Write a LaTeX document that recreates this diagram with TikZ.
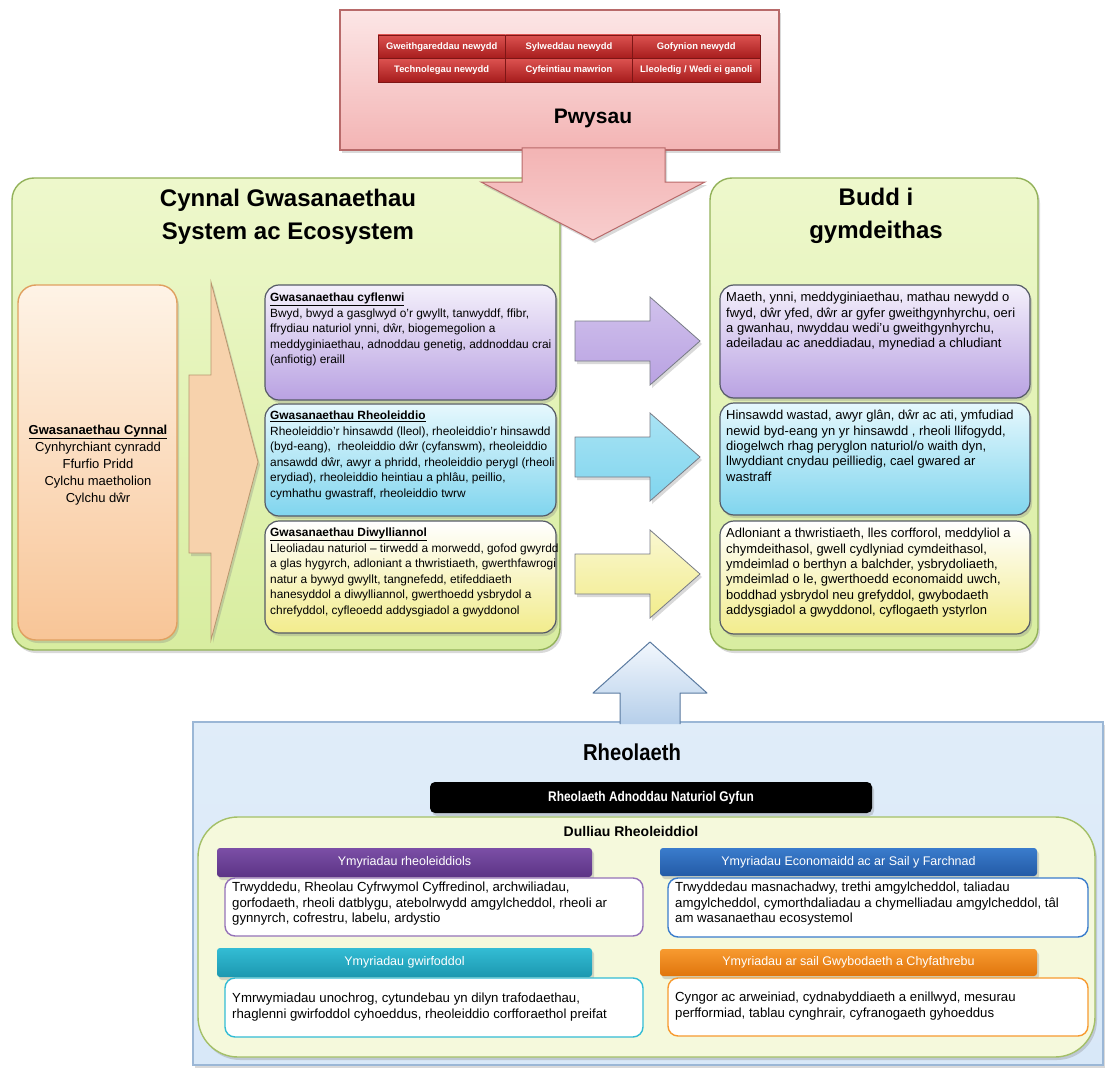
\documentclass[tikz,border=0pt]{standalone}
\usepackage{fontspec}
\setmainfont{Liberation Sans}
\usetikzlibrary{fit,shadows}
\definecolor{pinkTop}{HTML}{FCE6E6}
\definecolor{pinkBot}{HTML}{F3B4B4}
\definecolor{pinkBd}{HTML}{B86A6A}
\definecolor{redTop}{HTML}{DC5250}
\definecolor{redBot}{HTML}{A61C1C}
\definecolor{redBd}{HTML}{7E1616}
\definecolor{greenTop}{HTML}{EEF8CC}
\definecolor{greenBot}{HTML}{D8EDA0}
\definecolor{greenBd}{HTML}{93B25A}
\definecolor{orTop}{HTML}{FEF3E6}
\definecolor{orBot}{HTML}{F8C597}
\definecolor{orBd}{HTML}{E0A060}
\definecolor{chevFill}{HTML}{F7D2AC}
\definecolor{chevBd}{HTML}{B8966E}
\definecolor{purTop}{HTML}{F4F0FB}
\definecolor{purBot}{HTML}{B9A2E2}
\definecolor{cyTop}{HTML}{E6F8FD}
\definecolor{cyBot}{HTML}{80D5EE}
\definecolor{yeTop}{HTML}{FFFFFF}
\definecolor{yeBot}{HTML}{F2EC8C}
\definecolor{boxBd}{HTML}{555A66}
\definecolor{blueBg}{HTML}{D8E8F8}
\definecolor{blueBd}{HTML}{9BB7D6}
\definecolor{arrBlueTop}{HTML}{F2F7FD}
\definecolor{arrBlueBot}{HTML}{B6CFEA}
\definecolor{arrBlueBd}{HTML}{5A7AA0}
\definecolor{innerY}{HTML}{F5F9DC}
\definecolor{innerBd}{HTML}{A4C068}
\definecolor{hPur}{HTML}{7B4FA6}
\definecolor{hPurD}{HTML}{5C3486}
\definecolor{hCy}{HTML}{33BCD4}
\definecolor{hCyD}{HTML}{1C98B0}
\definecolor{hBl}{HTML}{3A7CCC}
\definecolor{hBlD}{HTML}{235AA6}
\definecolor{hOr}{HTML}{F79A30}
\definecolor{hOrD}{HTML}{E0750C}
\newcommand\midfont{\fontsize{11.9}{15.5}\selectfont}
\newcommand\bxfont{\fontsize{13}{15.4}\selectfont}
\newcommand\smfont{\fontsize{13.2}{15.3}\selectfont}
\begin{document}
\begin{tikzpicture}[x=1pt,y=-1pt,
  shd/.style={drop shadow={opacity=0.3,shadow xshift=2pt,shadow yshift=-3pt}},
  fitbox/.style={inner sep=0pt},
  redcell/.style={draw=redBd, line width=0.6pt, top color=redTop, bottom color=redBot,
    minimum width=127.3pt, minimum height=23.5pt, inner sep=0pt, text=white,
    font=\fontsize{9.4}{9.4}\selectfont\bfseries},
  greenbox/.style={fitbox, draw=greenBd, line width=1.4pt, rounded corners=22pt,
    top color=greenTop, bottom color=greenBot, shd},
  svcbox/.style={fitbox, draw=boxBd, line width=1.2pt, rounded corners=14pt, shd},
  hdr/.style={fitbox, rounded corners=3pt, shd},
  hdrtext/.style={text=white, font=\fontsize{12.5}{12.5}\selectfont},
  tbox/.style={fitbox, fill=white, line width=1.4pt, rounded corners=10pt},
  blockarr/.style={draw=boxBd!80, line width=0.8pt, shd},
]
\useasboundingbox (0,0) rectangle (1106,1070);

% ---------- big boxes ----------
\node[fit={(12,178)(560,650)}, greenbox] (lgreen) {};
\node[fit={(710,178)(1038,650)}, greenbox] (rgreen) {};
\node[align=center, font=\fontsize{24}{33}\selectfont\bfseries] (ltitle) at (288,217)
  {Cynnal Gwasanaethau\\System ac Ecosystem};
\node[align=center, font=\fontsize{24}{33}\selectfont\bfseries] (rtitle) at (876,216)
  {Budd i\\gymdeithas};

% ---------- Pressures ----------
\node[fit={(340,10)(779,150)}, fitbox, draw=pinkBd, line width=1.2pt,
  top color=pinkTop, bottom color=pinkBot, shd] (press) {};
\node[redcell] (c11) at (441.65,46.75) {Gweithgareddau newydd};
\node[redcell] (c12) at (568.95,46.75) {Sylweddau newydd};
\node[redcell] (c13) at (696.25,46.75) {Gofynion newydd};
\node[redcell] (c21) at (441.65,70.25) {Technolegau newydd};
\node[redcell] (c22) at (568.95,70.25) {Cyfeintiau mawrion};
\node[redcell] (c23) at (696.25,70.25) {Lleoledig / Wedi ei ganoli};
\node[font=\fontsize{21}{21}\selectfont\bfseries] (pw) at (593,118) {Pwysau};

% pink down arrow
\path[draw=pinkBd, line width=1pt, top color=pinkBot, bottom color=pinkTop!50!pinkBot, shd]
  (522,148) -- (665,148) -- (665,182) -- (705,182) -- (593,240) -- (481,182) -- (522,182) -- cycle;

% supporting services
\node[fit={(18,285)(177,640)}, fitbox, draw=orBd, line width=1.4pt, rounded corners=18pt,
  top color=orTop, bottom color=orBot, shd] (support) {};
\node[align=center, font=\fontsize{13}{17}\selectfont] (supportT) at (98,465)
  {\textbf{\underline{Gwasanaethau Cynnal}}\\Cynhyrchiant cynradd\\Ffurfio Pridd\\Cylchu maetholion\\Cylchu dŵr};
\path[draw=chevBd, line width=0.8pt, fill=chevFill, shd]
  (189,375) -- (211,375) -- (211,282) -- (258,462) -- (211,640) -- (211,553) -- (189,553) -- cycle;

% service boxes
\node[fit={(265,285)(556,400)}, svcbox, top color=purTop, bottom color=purBot] (prov) {};
\node[fit={(265,404)(556,516)}, svcbox, top color=cyTop, bottom color=cyBot] (reg) {};
\node[fit={(265,521)(556,633)}, svcbox, top color=yeTop, bottom color=yeBot] (cult) {};
\node[anchor=north west, inner sep=0pt, align=left, font=\midfont] (provT) at (270,293)
  {\textbf{\underline{Gwasanaethau cyflenwi}}\\
   Bwyd, bwyd a gasglwyd o’r gwyllt, tanwyddf, ffibr,\\
   ffrydiau naturiol ynni, dŵr, biogemegolion a\\
   meddyginiaethau, adnoddau genetig, addnoddau crai\\
   (anfiotig) eraill};
\node[anchor=north west, inner sep=0pt, align=left, font=\midfont] (regT) at (270,411)
  {\textbf{\underline{Gwasanaethau Rheoleiddio}}\\
   Rheoleiddio’r hinsawdd (lleol), rheoleiddio’r hinsawdd\\
   (byd-eang), \ rheoleiddio dŵr (cyfanswm), rheoleiddio\\
   ansawdd dŵr, awyr a phridd, rheoleiddio perygl (rheoli\\
   erydiad), rheoleiddio heintiau a phlâu, peillio,\\
   cymhathu gwastraff, rheoleiddio twrw};
\node[anchor=north west, inner sep=0pt, align=left, font=\midfont] (cultT) at (270,528)
  {\textbf{\underline{Gwasanaethau Diwylliannol}}\\
   Lleoliadau naturiol – tirwedd a morwedd, gofod gwyrdd\\
   a glas hygyrch, adloniant a thwristiaeth, gwerthfawrogi\\
   natur a bywyd gwyllt, tangnefedd, etifeddiaeth\\
   hanesyddol a diwylliannol, gwerthoedd ysbrydol a\\
   chrefyddol, cyfleoedd addysgiadol a gwyddonol};

% benefit boxes
\node[fit={(720,285)(1030,398)}, svcbox, top color=purTop, bottom color=purBot] (bprov) {};
\node[fit={(720,403)(1030,515)}, svcbox, top color=cyTop, bottom color=cyBot] (breg) {};
\node[fit={(720,521)(1030,634)}, svcbox, top color=yeTop, bottom color=yeBot] (bcult) {};
\node[anchor=north west, inner sep=0pt, align=left, font=\bxfont] (bprovT) at (726,292)
  {Maeth, ynni, meddyginiaethau, mathau newydd o\\
   fwyd, dŵr yfed, dŵr ar gyfer gweithgynhyrchu, oeri\\
   a gwanhau, nwyddau wedi’u gweithgynhyrchu,\\
   adeiladau ac aneddiadau, mynediad a chludiant};
\node[anchor=north west, inner sep=0pt, align=left, font=\bxfont] (bregT) at (726,410)
  {Hinsawdd wastad, awyr glân, dŵr ac ati, ymfudiad\\
   newid byd-eang yn yr hinsawdd , rheoli llifogydd,\\
   diogelwch rhag peryglon naturiol/o waith dyn,\\
   llwyddiant cnydau peilliedig, cael gwared ar\\
   wastraff};
\node[anchor=north west, inner sep=0pt, align=left, font=\bxfont] (bcultT) at (726,528)
  {Adloniant a thwristiaeth, lles corfforol, meddyliol a\\
   chymdeithasol, gwell cydlyniad cymdeithasol,\\
   ymdeimlad o berthyn a balchder, ysbrydoliaeth,\\
   ymdeimlad o le, gwerthoedd economaidd uwch,\\
   boddhad ysbrydol neu grefyddol, gwybodaeth\\
   addysgiadol a gwyddonol, cyflogaeth ystyrlon};

% block arrows between
\path[blockarr, top color=purTop!40!purBot, bottom color=purBot]
  (575,321) -- (650,321) -- (650,297) -- (700,341) -- (650,385) -- (650,361) -- (575,361) -- cycle;
\path[blockarr, top color=cyTop!40!cyBot, bottom color=cyBot]
  (575,437) -- (650,437) -- (650,413) -- (700,457) -- (650,501) -- (650,477) -- (575,477) -- cycle;
\path[blockarr, top color=yeTop!60!yeBot, bottom color=yeBot]
  (575,554) -- (650,554) -- (650,530) -- (700,574) -- (650,618) -- (650,594) -- (575,594) -- cycle;

% ---------- Management ----------
\node[fit={(193,722)(1103,1065)}, fitbox, draw=blueBd, line width=1.4pt,
  top color=blueBg!80!white, bottom color=blueBg, shd] (mgmt) {};
\path[top color=arrBlueTop, bottom color=arrBlueBot]
  (620,724) -- (620,693) -- (593,693) -- (650,642) -- (707,693) -- (680,693) -- (680,724) -- cycle;
\draw[arrBlueBd, line width=1pt, line join=round]
  (620,724) -- (620,693) -- (593,693) -- (650,642) -- (707,693) -- (680,693) -- (680,724);
\node[font=\fontsize{23}{23}\selectfont\bfseries] (rh) at (632,752) {\scalebox{0.88}[1]{Rheolaeth}};
\node[fit={(430,782)(872,813)}, fitbox, fill=black, rounded corners=5pt, shd] (ian) {};
\node[text=white, font=\fontsize{14}{14}\selectfont\bfseries] (ianT) at (ian.center)
  {\scalebox{0.85}[1]{Rheolaeth Adnoddau Naturiol Gyfun}};
\node[fit={(198,817)(1095,1057)}, fitbox, draw=innerBd, line width=1.4pt, rounded corners=40pt,
  fill=innerY, shd] (inner) {};
\node[font=\fontsize{14}{14}\selectfont\bfseries] (dull) at (631,831) {Dulliau Rheoleiddiol};

\node[fit={(217,848)(592,877)}, hdr, top color=hPur, bottom color=hPurD] (h1) {};
\node[hdrtext] (h1T) at (h1.center) {Ymyriadau rheoleiddiols};
\node[fit={(225,878)(643,936)}, tbox, draw=hPur!80] (t1) {};
\node[anchor=north west, inner sep=0pt, align=left, font=\smfont] (t1T) at (232,882)
  {Trwyddedu, Rheolau Cyfrwymol Cyffredinol, archwiliadau,\\
   gorfodaeth, rheoli datblygu, atebolrwydd amgylcheddol, rheoli ar\\
   gynnyrch, cofrestru, labelu, ardystio};

\node[fit={(217,948)(592,977)}, hdr, top color=hCy, bottom color=hCyD] (h2) {};
\node[hdrtext] (h2T) at (h2.center) {Ymyriadau gwirfoddol};
\node[fit={(225,978)(643,1037)}, tbox, draw=hCy] (t2) {};
\node[anchor=west, inner sep=0pt, align=left, font=\smfont] (t2T) at (232,1007)
  {Ymrwymiadau unochrog, cytundebau yn dilyn trafodaethau,\\
   rhaglenni gwirfoddol cyhoeddus, rheoleiddio corfforaethol preifat};

\node[fit={(660,848)(1037,876)}, hdr, top color=hBl, bottom color=hBlD] (h3) {};
\node[hdrtext] (h3T) at (h3.center) {Ymyriadau Economaidd ac ar Sail y Farchnad};
\node[fit={(668,878)(1088,937)}, tbox, draw=hBl] (t3) {};
\node[anchor=north west, inner sep=0pt, align=left, font=\smfont] (t3T) at (675,882)
  {Trwyddedau masnachadwy, trethi amgylcheddol, taliadau\\
   amgylcheddol, cymorthdaliadau a chymelliadau amgylcheddol, tâl\\
   am wasanaethau ecosystemol};

\node[fit={(660,949)(1037,976)}, hdr, top color=hOr, bottom color=hOrD] (h4) {};
\node[hdrtext] (h4T) at (h4.center) {Ymyriadau ar sail Gwybodaeth a Chyfathrebu};
\node[fit={(668,978)(1088,1036)}, tbox, draw=hOr] (t4) {};
\node[anchor=west, inner sep=0pt, align=left, font=\smfont] (t4T) at (675,1006)
  {Cyngor ac arweiniad, cydnabyddiaeth a enillwyd, mesurau\\
   perfformiad, tablau cynghrair, cyfranogaeth gyhoeddus};
\end{tikzpicture}
\end{document}
